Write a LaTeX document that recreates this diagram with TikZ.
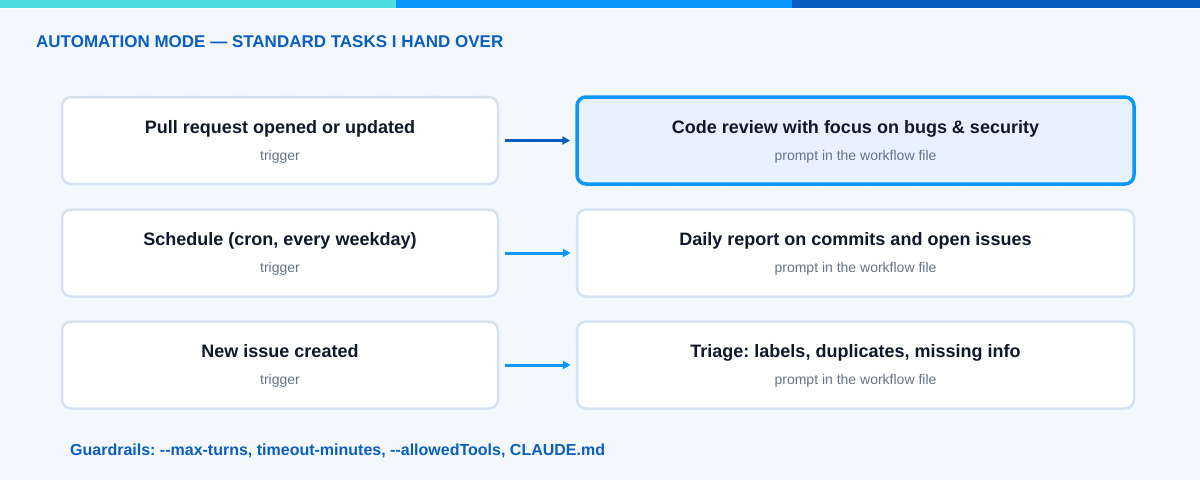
\documentclass[tikz,border=0pt]{standalone}
\usepackage{fontspec}
\setmainfont{Liberation Sans}
\usetikzlibrary{arrows.meta}
\definecolor{bg}{HTML}{F4F8FD}
\definecolor{dotc}{HTML}{DCE4F3}
\definecolor{barA}{HTML}{4DDFDF}
\definecolor{barB}{HTML}{0A96FF}
\definecolor{barC}{HTML}{0A5EC0}
\definecolor{boxline}{HTML}{D6E2F2}
\definecolor{hifill}{HTML}{E8F2FE}
\definecolor{ink}{HTML}{0F172A}
\definecolor{muted}{HTML}{64748B}
\frenchspacing
\tikzset{
  card/.style={draw=boxline, line width=2.5pt, fill=white, rounded corners=9pt, inner sep=0pt},
  lcard/.style={card, minimum width=436pt, minimum height=87pt},
  rcard/.style={card, minimum width=557pt, minimum height=87pt},
  hicard/.style={rcard, draw=barB, fill=hifill, line width=3.5pt},
  ttl/.style={anchor=base, inner sep=0pt, text=ink, font=\fontsize{18}{20}\selectfont\bfseries},
  sub/.style={anchor=base, inner sep=0pt, text=muted, font=\fontsize{14}{16}\selectfont},
  flow/.style={line width=3pt, color=barB, -{Triangle[length=8pt,width=8pt]}, shorten <=6pt, shorten >=5pt},
  flowdark/.style={flow, color=barC},
  head/.style={anchor=base west, inner sep=0pt, text=barC, font=\fontsize{17}{19}\selectfont\bfseries},
}
\begin{document}
\begin{tikzpicture}[x=1pt,y=-1pt]
\useasboundingbox (0,0) rectangle (1200,480);
\fill[bg] (0,0) rectangle (1200,480);
\foreach \i in {1,...,24} \foreach \j in {1,...,9} \fill[dotc] (48*\i,48*\j) circle (1pt);
\fill[barA] (0,0) rectangle (396,8);
\fill[barB] (396,0) rectangle (792,8);
\fill[barC] (792,0) rectangle (1200,8);
\fill[white, opacity=0.6] (0,8) rectangle (1200,9);

\node[head] (title) at (36,47) {AUTOMATION MODE — STANDARD TASKS I HAND OVER};

% row 1
\node[lcard] (l1) at (280,140.5) {};
\node[hicard] (r1) at (855.5,140.5) {};
\node[ttl] (l1t) at (280,133) {Pull request opened or updated};
\node[sub] (l1s) at (280,160) {trigger};
\node[ttl] (r1t) at (855.5,133) {Code review with focus on bugs \& security};
\node[sub] (r1s) at (855.5,160) {prompt in the workflow file};
\draw[flowdark] (l1) -- (r1);

% row 2
\node[lcard] (l2) at (280,253) {};
\node[rcard] (r2) at (855.5,253) {};
\node[ttl] (l2t) at (280,245.5) {Schedule (cron, every weekday)};
\node[sub] (l2s) at (280,272.5) {trigger};
\node[ttl] (r2t) at (855.5,245.5) {Daily report on commits and open issues};
\node[sub] (r2s) at (855.5,272.5) {prompt in the workflow file};
\draw[flow] (l2) -- (r2);

% row 3
\node[lcard] (l3) at (280,365) {};
\node[rcard] (r3) at (855.5,365) {};
\node[ttl] (l3t) at (280,357.5) {New issue created};
\node[sub] (l3s) at (280,384.5) {trigger};
\node[ttl] (r3t) at (855.5,357.5) {Triage: labels, duplicates, missing info};
\node[sub] (r3s) at (855.5,384.5) {prompt in the workflow file};
\draw[flow] (l3) -- (r3);

\node[head, font=\fontsize{16}{18}\selectfont\bfseries] (guard) at (70,455) {Guardrails: -{}-max-turns, timeout-minutes, -{}-allowedTools, CLAUDE.md};
\end{tikzpicture}
\end{document}
